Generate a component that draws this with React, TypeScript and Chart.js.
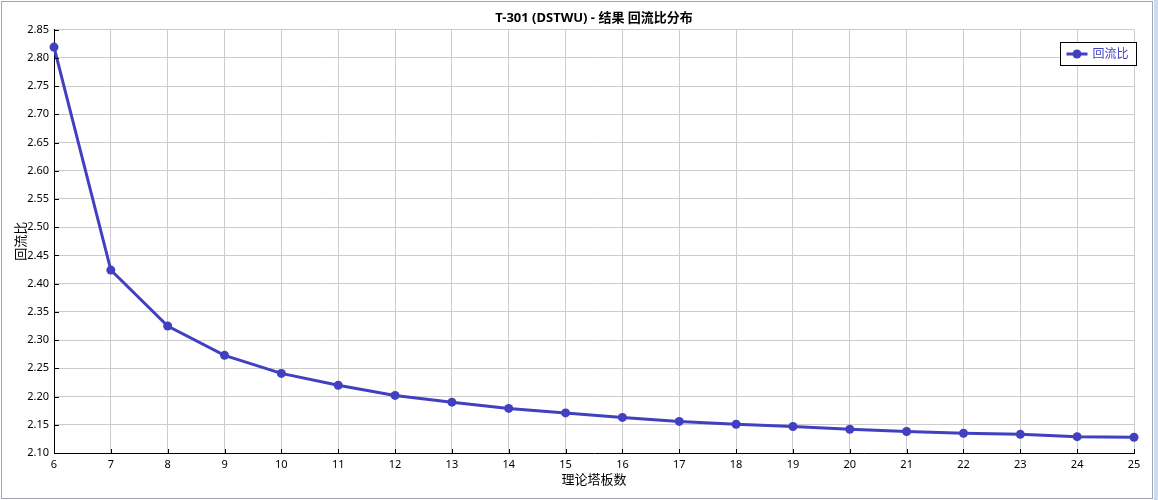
import React, { useEffect, useRef } from "react";
import { Chart, registerables } from "chart.js";

Chart.register(...registerables);

const chartTitle = "T-301 (DSTWU) - 结果 回流比分布";
const xAxisTitle = "理论塔板数";
const yAxisTitle = "回流比";
const seriesLabel = "回流比";

const plates = [6, 7, 8, 9, 10, 11, 12, 13, 14, 15, 16, 17, 18, 19, 20, 21, 22, 23, 24, 25];
const reflux = [
  2.819, 2.424, 2.325, 2.273, 2.241, 2.220, 2.202, 2.190, 2.179, 2.171,
  2.163, 2.156, 2.151, 2.147, 2.142, 2.138, 2.135, 2.133, 2.129, 2.128,
];

const xMin = 6;
const xMax = 25;
const yMin = 2.1;
const yMax = 2.85;
const yStep = 0.05;

const FONT = "'Noto Sans', 'Noto Sans CJK SC', sans-serif";
const LINE_COLOR = "#4040c0";

const innerTicksPlugin = {
  id: "innerTicks",
  afterDatasetsDraw(chart: any) {
    const { ctx, chartArea, scales } = chart;
    ctx.save();
    ctx.strokeStyle = "#000";
    ctx.lineWidth = 1;
    ctx.beginPath();
    scales.x.ticks.forEach((t: any) => {
      const px = Math.round(scales.x.getPixelForValue(t.value)) + 0.5;
      ctx.moveTo(px, chartArea.bottom);
      ctx.lineTo(px, chartArea.bottom - 4);
    });
    scales.y.ticks.forEach((t: any) => {
      const py = Math.round(scales.y.getPixelForValue(t.value)) + 0.5;
      ctx.moveTo(chartArea.left, py);
      ctx.lineTo(chartArea.left + 5, py);
    });
    ctx.stroke();
    ctx.restore();
  },
};

const boxLegendPlugin = {
  id: "boxLegend",
  afterDraw(chart: any) {
    const { ctx, chartArea } = chart;
    const ds = chart.data.datasets[0];
    ctx.save();
    ctx.font = `12px ${FONT}`;
    const textW = ctx.measureText(ds.label).width;
    const w = Math.round(textW + 40);
    const h = 23;
    const x0 = Math.round(chartArea.right + 2 - w) + 0.5;
    const y0 = Math.round(chartArea.top + 12) + 0.5;
    ctx.fillStyle = "#fff";
    ctx.fillRect(x0, y0, w, h);
    ctx.strokeStyle = "#000";
    ctx.lineWidth = 1;
    ctx.strokeRect(x0, y0, w, h);
    const cy = y0 + h / 2;
    ctx.strokeStyle = ds.borderColor;
    ctx.lineWidth = 3;
    ctx.beginPath();
    ctx.moveTo(x0 + 6, cy);
    ctx.lineTo(x0 + 27, cy);
    ctx.stroke();
    ctx.fillStyle = ds.borderColor;
    ctx.beginPath();
    ctx.arc(x0 + 16.5, cy, 4.5, 0, Math.PI * 2);
    ctx.fill();
    ctx.fillStyle = ds.borderColor;
    ctx.textBaseline = "middle";
    ctx.textAlign = "left";
    ctx.fillText(ds.label, x0 + 32, cy + 0.5);
    ctx.restore();
  },
};

export default function App() {
  const canvasRef = useRef<HTMLCanvasElement | null>(null);

  useEffect(() => {
    document.body.style.margin = "0";
    const canvas = canvasRef.current;
    if (!canvas) return;
    const chart = new Chart(canvas, {
      type: "line",
      data: {
        datasets: [
          {
            label: seriesLabel,
            data: plates.map((p, i) => ({ x: p, y: reflux[i] })),
            borderColor: LINE_COLOR,
            backgroundColor: LINE_COLOR,
            borderWidth: 3,
            pointRadius: 4.5,
            pointHoverRadius: 4.5,
            pointBackgroundColor: LINE_COLOR,
            pointBorderWidth: 0,
            tension: 0,
            fill: false,
            clip: false,
          },
        ],
      },
      options: {
        responsive: false,
        animation: false,
        layout: { padding: { left: 0, right: 24, top: 0, bottom: 0 } },
        plugins: {
          legend: { display: false },
          tooltip: { enabled: false },
          title: {
            display: true,
            text: chartTitle,
            fullSize: false,
            color: "#000",
            font: { family: FONT, size: 13, weight: "bold" },
            padding: { top: 10, bottom: 4 },
          },
        },
        scales: {
          x: {
            type: "linear",
            min: xMin,
            max: xMax,
            afterFit(scale: any) {
              scale.height = 47;
            },
            ticks: {
              stepSize: 1,
              color: "#000",
              font: { family: FONT, size: 11 },
              padding: 5,
              maxRotation: 0,
              callback: (v: any) => String(v),
            },
            grid: { color: "#cccccc", lineWidth: 1, drawTicks: false },
            border: { color: "#000", width: 1 },
            title: {
              display: true,
              text: xAxisTitle,
              color: "#000",
              font: { family: FONT, size: 13 },
              padding: { top: 0, bottom: 12 },
            },
          },
          y: {
            type: "linear",
            min: yMin,
            max: yMax,
            afterFit(scale: any) {
              scale.width = 54;
            },
            ticks: {
              stepSize: yStep,
              color: "#000",
              font: { family: FONT, size: 11 },
              padding: 5,
              callback: (v: any) => Number(v).toFixed(2),
            },
            grid: { color: "#cccccc", lineWidth: 1, drawTicks: false },
            border: { color: "#000", width: 1 },
            title: {
              display: true,
              text: yAxisTitle,
              color: "#000",
              font: { family: FONT, size: 13 },
              padding: { top: 13, bottom: 0 },
            },
          },
        },
      },
      plugins: [innerTicksPlugin, boxLegendPlugin],
    });
    return () => chart.destroy();
  }, []);

  return (
    <div style={{ position: "relative", width: 1158, height: 500, background: "#fff", overflow: "hidden" }}>
      <div
        style={{
          position: "absolute",
          left: 1,
          top: 1,
          width: 1150,
          height: 496,
          border: "1px solid #9ea6b6",
        }}
      />
      <div style={{ position: "absolute", left: 1154, top: 0, width: 4, height: 500, background: "#c9dbf1" }} />
      <canvas
        ref={canvasRef}
        width={1158}
        height={500}
        style={{ position: "absolute", left: 0, top: 0, width: 1158, height: 500 }}
      />
    </div>
  );
}
